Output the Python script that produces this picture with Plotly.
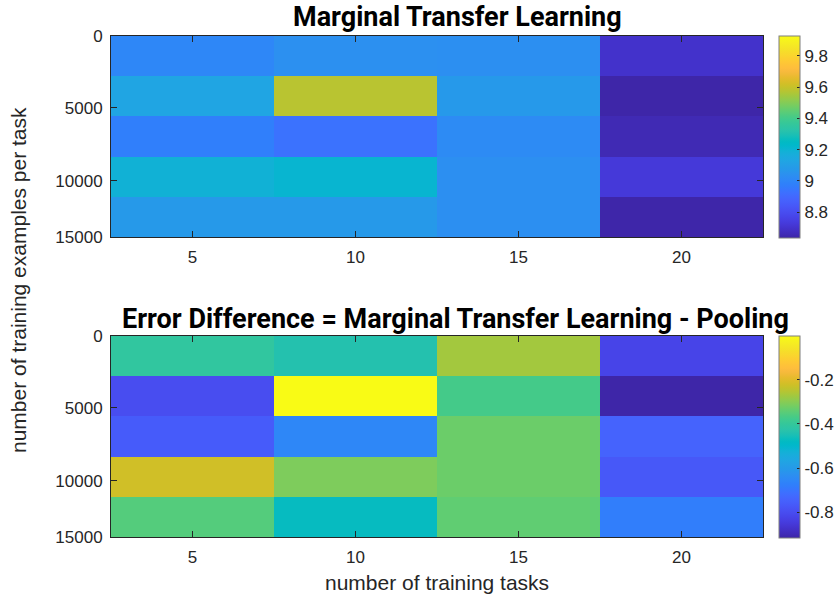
import plotly.graph_objects as go

# ---------------- data ----------------
tasks = [5, 10, 15, 20]                      # number of training tasks (columns)
rows = [1, 2, 3, 4, 5]                       # row index (examples-per-task blocks)
y_tick_pos = [0.5, 2.29, 4.105, 5.5]
y_tick_labels = ["0", "5000", "10000", "15000"]

mtl_error = [
    [9.008, 9.043, 9.039, 8.701],
    [9.129, 9.581, 9.079, 8.639],
    [8.977, 8.936, 9.023, 8.660],
    [9.194, 9.213, 9.039, 8.729],
    [9.081, 9.081, 9.039, 8.640],
]
mtl_clim = [8.639, 9.929]
mtl_cb_ticks = [8.8, 9.0, 9.2, 9.4, 9.6, 9.8]
mtl_cb_labels = ["8.8", "9", "9.2", "9.4", "9.6", "9.8"]

diff_error = [
    [-0.406, -0.435, -0.269, -0.820],
    [-0.798, 0.000, -0.370, -0.914],
    [-0.761, -0.653, -0.326, -0.740],
    [-0.219, -0.308, -0.326, -0.769],
    [-0.351, -0.472, -0.338, -0.675],
]
diff_clim = [-0.914, 0.0]
diff_cb_ticks = [-0.8, -0.6, -0.4, -0.2]
diff_cb_labels = ["-0.8", "-0.6", "-0.4", "-0.2"]

titles = ["Marginal Transfer Learning",
          "Error Difference = Marginal Transfer Learning - Pooling"]
x_title = "number of training tasks"
y_title = "number of training examples per task"

# ---------------- style ----------------
parula = [
    (0.2422, 0.1504, 0.6603), (0.2504, 0.1650, 0.7076), (0.2578, 0.1818, 0.7511),
    (0.2647, 0.1978, 0.7952), (0.2706, 0.2147, 0.8364), (0.2751, 0.2342, 0.8710),
    (0.2783, 0.2559, 0.8991), (0.2803, 0.2782, 0.9221), (0.2813, 0.3006, 0.9414),
    (0.2810, 0.3228, 0.9579), (0.2795, 0.3447, 0.9717), (0.2760, 0.3667, 0.9829),
    (0.2699, 0.3892, 0.9906), (0.2602, 0.4123, 0.9952), (0.2440, 0.4358, 0.9988),
    (0.2206, 0.4603, 0.9973), (0.1963, 0.4847, 0.9892), (0.1834, 0.5074, 0.9798),
    (0.1786, 0.5289, 0.9682), (0.1764, 0.5499, 0.9520), (0.1687, 0.5703, 0.9359),
    (0.1540, 0.5902, 0.9218), (0.1460, 0.6091, 0.9079), (0.1380, 0.6276, 0.8973),
    (0.1248, 0.6459, 0.8883), (0.1113, 0.6635, 0.8763), (0.0952, 0.6798, 0.8598),
    (0.0689, 0.6948, 0.8394), (0.0297, 0.7082, 0.8163), (0.0036, 0.7203, 0.7917),
    (0.0067, 0.7312, 0.7660), (0.0433, 0.7411, 0.7394), (0.0964, 0.7500, 0.7120),
    (0.1408, 0.7584, 0.6842), (0.1717, 0.7670, 0.6554), (0.1938, 0.7758, 0.6251),
    (0.2161, 0.7843, 0.5923), (0.2470, 0.7918, 0.5567), (0.2906, 0.7973, 0.5188),
    (0.3406, 0.8008, 0.4789), (0.3909, 0.8029, 0.4354), (0.4456, 0.8024, 0.3909),
    (0.5044, 0.7993, 0.3480), (0.5616, 0.7942, 0.3045), (0.6174, 0.7876, 0.2612),
    (0.6720, 0.7793, 0.2227), (0.7242, 0.7698, 0.1910), (0.7738, 0.7598, 0.1646),
    (0.8203, 0.7498, 0.1535), (0.8634, 0.7406, 0.1596), (0.9035, 0.7330, 0.1774),
    (0.9393, 0.7288, 0.2100), (0.9728, 0.7298, 0.2394), (0.9956, 0.7434, 0.2371),
    (0.9970, 0.7659, 0.2199), (0.9952, 0.7893, 0.2028), (0.9892, 0.8136, 0.1885),
    (0.9786, 0.8386, 0.1766), (0.9676, 0.8639, 0.1643), (0.9610, 0.8890, 0.1537),
    (0.9597, 0.9135, 0.1423), (0.9628, 0.9373, 0.1265), (0.9691, 0.9606, 0.1064),
    (0.9769, 0.9839, 0.0805),
]
n = len(parula)
colorscale = [[i / (n - 1), "rgb(%d,%d,%d)" % tuple(round(c * 255) for c in p)]
              for i, p in enumerate(parula)]

W, H = 839, 594
AX_L, AX_R = 111, 763
PANELS = [(36, 237), (336, 537)]
TXT = "#262626"
FONT = "Liberation Sans, Arial, sans-serif"
TFONT = "Roboto, sans-serif"

def px_x(p):
    return p / W

def px_y(p):
    return 1 - p / H

fig = go.Figure()

datasets = [
    (mtl_error, mtl_clim, mtl_cb_ticks, mtl_cb_labels),
    (diff_error, diff_clim, diff_cb_ticks, diff_cb_labels),
]

for i, (z, clim, cbt, cbl) in enumerate(datasets):
    top, bot = PANELS[i]
    sfx = "" if i == 0 else str(i + 1)
    fig.add_trace(go.Heatmap(
        x=tasks, y=rows, z=z,
        zmin=clim[0], zmax=clim[1],
        colorscale=colorscale,
        xaxis="x" + sfx, yaxis="y" + sfx,
        hoverinfo="skip",
        colorbar=dict(
            x=px_x(779), xanchor="left", xref="paper",
            y=px_y((top + bot) / 2), yanchor="middle", yref="paper",
            len=bot - top + 1, lenmode="pixels",
            thickness=21, thicknessmode="pixels",
            xpad=0, ypad=0,
            outlinecolor="#7f7f7f", outlinewidth=1,
            tickmode="array", tickvals=cbt, ticktext=cbl,
            ticks="inside", ticklen=3, tickcolor=TXT,
            tickfont=dict(family=FONT, size=17, color=TXT),
        ),
    ))
    xa = dict(
        domain=[px_x(AX_L), px_x(AX_R)],
        range=[2.5, 22.5],
        tickmode="array", tickvals=tasks, ticktext=[str(t) for t in tasks],
        ticks="inside", ticklen=6, tickwidth=1, tickcolor=TXT,
        showline=True, linecolor=TXT, linewidth=1, mirror="ticks",
        showgrid=False, zeroline=False, automargin=False,
        tickfont=dict(family=FONT, size=17, color=TXT),
        ticklabelstandoff=5,
        anchor="y" + sfx, fixedrange=True,
    )
    ya = dict(
        domain=[px_y(bot), px_y(top)],
        range=[5.5, 0.5],
        tickmode="array", tickvals=y_tick_pos, ticktext=y_tick_labels,
        ticks="inside", ticklen=6, tickwidth=1, tickcolor=TXT,
        showline=True, linecolor=TXT, linewidth=1, mirror="ticks",
        showgrid=False, zeroline=False, automargin=False,
        tickfont=dict(family=FONT, size=17, color=TXT),
        ticklabelstandoff=4,
        anchor="x" + sfx, fixedrange=True,
    )
    fig.update_layout(**{"xaxis" + sfx: xa, "yaxis" + sfx: ya})

annotations = [
    dict(text="<b>%s</b>" % titles[0], x=px_x(457), y=px_y(17),
         xanchor="center", yanchor="middle",
         font=dict(family=TFONT, size=27, color="black")),
    dict(text="<b>%s</b>" % titles[1], x=px_x(455), y=px_y(319),
         xanchor="center", yanchor="middle",
         font=dict(family=TFONT, size=27, color="black")),
    dict(text=x_title, x=px_x(437), y=px_y(582),
         xanchor="center", yanchor="middle",
         font=dict(family=FONT, size=21, color=TXT)),
    dict(text=y_title, x=px_x(18), y=px_y(280), textangle=-90,
         xanchor="center", yanchor="middle",
         font=dict(family=FONT, size=21, color=TXT)),
]
for a in annotations:
    a.update(xref="paper", yref="paper", showarrow=False)

fig.update_layout(
    width=W, height=H, autosize=False,
    margin=dict(l=0, r=0, t=0, b=0, pad=0, autoexpand=False),
    paper_bgcolor="white", plot_bgcolor="white",
    annotations=annotations,
    showlegend=False,
)

fig.write_html(
    "out.html",
    config={"displayModeBar": False},
    post_script=(
        "document.documentElement.style.margin='0';"
        "document.documentElement.style.padding='0';"
        "document.documentElement.style.overflow='hidden';"
        "document.body.style.margin='0';"
        "document.body.style.padding='0';"
        "document.body.style.overflow='hidden';"
    ),
)
